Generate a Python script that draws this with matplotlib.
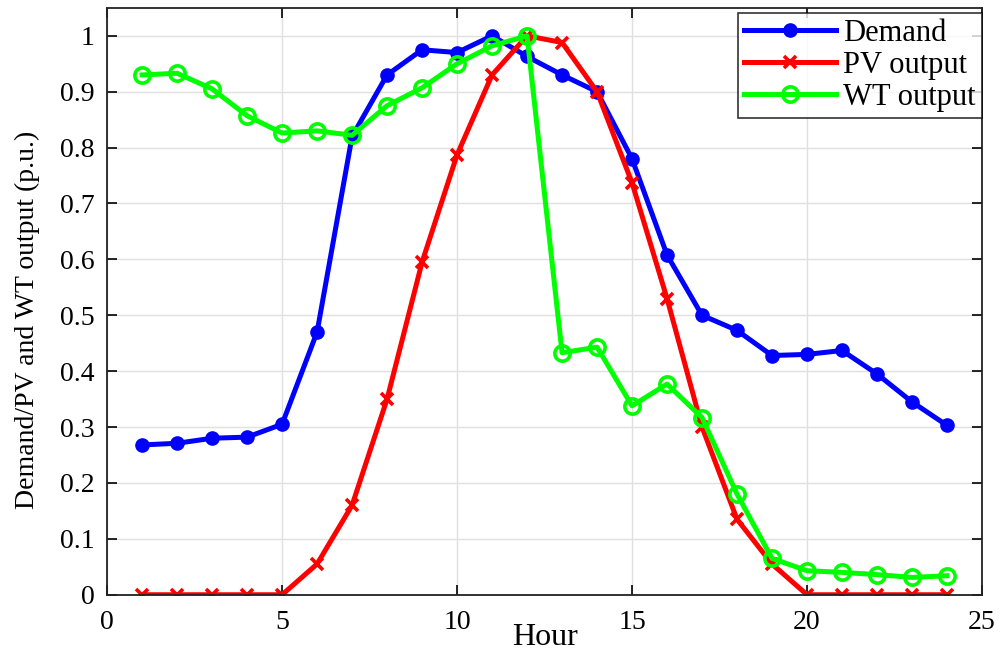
import matplotlib
matplotlib.use("Agg")
import matplotlib.pyplot as plt

plt.rcParams["font.family"] = ["Liberation Serif", "DejaVu Serif"]

hours = list(range(1, 25))
demand = [0.268, 0.271, 0.280, 0.282, 0.305, 0.470, 0.820, 0.930, 0.975, 0.970,
          1.000, 0.963, 0.930, 0.900, 0.780, 0.608, 0.500, 0.473, 0.428, 0.430,
          0.437, 0.395, 0.345, 0.303]
pv = [0, 0, 0, 0, 0, 0.055, 0.160, 0.350, 0.595, 0.787,
      0.930, 1.000, 0.988, 0.900, 0.737, 0.530, 0.300, 0.135, 0.055, 0,
      0, 0, 0, 0]
wt = [0.930, 0.933, 0.905, 0.857, 0.826, 0.830, 0.822, 0.875, 0.907, 0.950,
      0.982, 1.000, 0.433, 0.443, 0.338, 0.377, 0.317, 0.180, 0.065, 0.043,
      0.040, 0.036, 0.031, 0.034]

fig = plt.figure(figsize=(10.01, 6.55), dpi=100)
ax = fig.add_axes([0.107, 0.092, 0.874, 0.896])

ax.plot(hours, demand, color="#0000ff", lw=3.6, marker="o", ms=9.5, label="Demand")
ax.plot(hours, pv, color="#ff0000", lw=3.6, marker="x", ms=8, mew=2.6, label="PV output")
ax.plot(hours, wt, color="#00ff00", lw=3.6, marker="o", ms=11, mfc="none", mew=2.6,
        label="WT output")

ax.set_xlim(0, 25)
ax.set_ylim(0, 1.05)
ax.set_xticks(range(0, 26, 5))
ax.set_yticks([i / 10 for i in range(11)])
ax.set_yticklabels(["0"] + [f"{i/10:g}" for i in range(1, 10)] + ["1"])
ax.grid(True, color="#e0e0e0", lw=1.0)
ax.set_axisbelow(True)
ax.tick_params(direction="in", length=7, width=1.2, labelsize=20, top=True, right=True)
ax.tick_params(axis="y", pad=9)
ax.tick_params(axis="x", pad=11)
for s in ax.spines.values():
    s.set_linewidth(1.3)
    s.set_color("#222222")

ax.set_xlabel("Hour", fontsize=23)
ax.xaxis.set_label_coords(0.5, -0.048)
ax.set_ylabel("Demand/PV and WT output (p.u.)", fontsize=20)
ax.yaxis.set_label_coords(-0.077, 0.468)

leg = ax.legend(loc="upper right", bbox_to_anchor=(1.0, 0.9915), fontsize=22,
                frameon=True, fancybox=False, edgecolor="black", borderaxespad=0,
                handlelength=3.0, borderpad=0.2, labelspacing=0.1,
                handletextpad=0.25)
leg.get_frame().set_linewidth(1.2)

fig.savefig("out.png", dpi=100)
